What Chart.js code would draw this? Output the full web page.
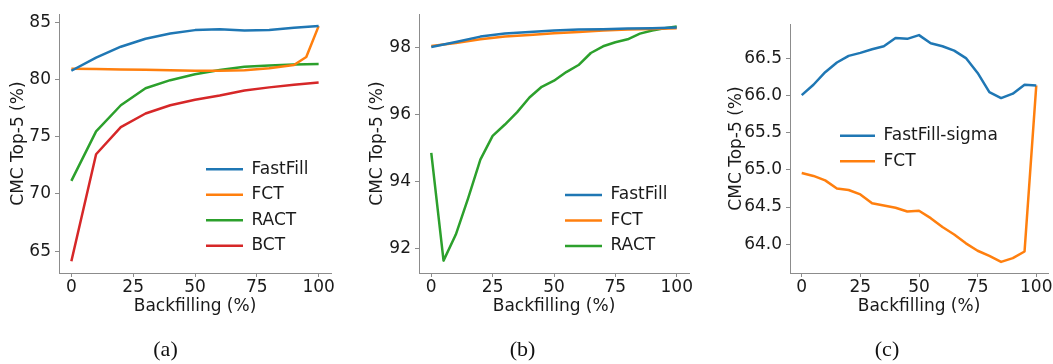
<!DOCTYPE html>
<html>
<head>
<meta charset="utf-8">
<script src="https://cdn.jsdelivr.net/npm/chart.js@4.4.1/dist/chart.umd.min.js"></script>
<style>
body { margin: 0; background: #fff; }
#wrap { position: relative; width: 1053px; height: 364px; }
canvas { position: absolute; top: 0; }
</style>
</head>
<body>
<div id="wrap">
  <canvas id="chartA" width="340" height="364" style="left:0px"></canvas>
  <canvas id="chartB" width="348" height="364" style="left:356px"></canvas>
  <canvas id="chartC" width="327" height="364" style="left:726px"></canvas>
</div>
<script>
// ---- data ----
var xTicks = [0, 25, 50, 75, 100];

// (a)
var xA = [0, 10, 20, 30, 40, 50, 60, 70, 80, 90, 100];
var xA_fct = [0, 10, 20, 30, 40, 50, 60, 70, 80, 90, 95, 100];
var fastFillA = [80.75, 81.9, 82.85, 83.55, 84.0, 84.3, 84.37, 84.26, 84.3, 84.5, 84.65];
var fctA = [80.92, 80.9, 80.85, 80.83, 80.8, 80.76, 80.76, 80.8, 80.98, 81.25, 81.95, 84.65];
var ractA = [71.13, 75.46, 77.74, 79.22, 79.93, 80.44, 80.81, 81.1, 81.21, 81.3, 81.35];
var bctA = [64.12, 73.46, 75.83, 77.02, 77.74, 78.22, 78.59, 79.02, 79.3, 79.53, 79.73];
var yTicksA = [65, 70, 75, 80, 85];

// (b)
var xB10 = [0, 10, 20, 30, 40, 50, 60, 70, 80, 90, 100];
var xB5 = [0, 5, 10, 15, 20, 25, 30, 35, 40, 45, 50, 55, 60, 65, 70, 75, 80, 85, 90, 95, 100];
var fastFillB = [98.02, 98.17, 98.33, 98.42, 98.47, 98.51, 98.54, 98.55, 98.57, 98.58, 98.6];
var fctB = [98.05, 98.14, 98.25, 98.33, 98.38, 98.43, 98.47, 98.51, 98.54, 98.56, 98.58];
var ractB = [94.85, 91.63, 92.41, 93.49, 94.65, 95.36, 95.7, 96.07, 96.51, 96.83, 97.01,
             97.27, 97.48, 97.84, 98.04, 98.16, 98.25, 98.42, 98.51, 98.58, 98.63];
var yTicksB = [92, 94, 96, 98];

// (c)
var xC = [0, 5, 10, 15, 20, 25, 30, 35, 40, 45, 50, 55, 60, 65, 70, 75, 80, 85, 90, 95, 100];
var fastFillSigmaC = [66.01, 66.15, 66.32, 66.45, 66.54, 66.58, 66.63, 66.67, 66.78, 66.77, 66.82,
                      66.71, 66.67, 66.61, 66.51, 66.31, 66.05, 65.97, 66.03, 66.15, 66.14];
var fctC = [64.96, 64.92, 64.86, 64.75, 64.73, 64.67, 64.55, 64.52, 64.49, 64.44, 64.45,
            64.35, 64.23, 64.13, 64.01, 63.91, 63.84, 63.76, 63.81, 63.9, 66.14];
var yTicksC = [64.0, 64.5, 65.0, 65.5, 66.0, 66.5];

var blue = '#1f77b4', orange = '#ff7f0e', green = '#2ca02c', red = '#d62728';
var axisGrey = '#8c8c8c', textCol = '#1a1a1a';

Chart.defaults.font.family = "'DejaVu Sans', sans-serif";
Chart.defaults.font.size = 17;
Chart.defaults.color = textCol;

function toPoints(xs, ys) {
    return xs.map(function (x, i) { return { x: x, y: ys[i] }; });
}

function lineSet(label, xs, ys, color) {
    return {
        label: label,
        data: toPoints(xs, ys),
        borderColor: color,
        backgroundColor: color,
        borderWidth: 2.5,
        pointRadius: 0,
        tension: 0,
        borderJoinStyle: 'round'
    };
}

function drawPanel(div, datasets, p) {
    var legPad = 8.5;
    // move the legend to where it sits in the figure
    var legendSpot = {
        id: 'legendSpot',
        afterLayout: function (chart) {
            var lg = chart.legend;
            var w = lg.width, h = lg.height;
            lg.left = p.legendX - legPad;
            lg.top = p.legendY - 8.5 - legPad;
            lg.right = lg.left + w;
            lg.bottom = lg.top + h;
        }
    };
    var ctx = document.getElementById(div).getContext('2d');
    return new Chart(ctx, {
        type: 'line',
        data: { datasets: datasets },
        plugins: [legendSpot],
        options: {
            responsive: false,
            animation: false,
            devicePixelRatio: 1,
            layout: { padding: { top: p.top, right: p.right, left: 0, bottom: 0 } },
            scales: {
                x: {
                    type: 'linear',
                    min: -5,
                    max: 105,
                    afterBuildTicks: function (s) { s.ticks = xTicks.map(function (v) { return { value: v }; }); },
                    afterFit: function (s) { s.height = 47; },
                    grid: { drawOnChartArea: false, drawTicks: true, tickLength: 4, color: axisGrey },
                    border: { display: true, color: axisGrey, width: 1 },
                    ticks: { padding: 0, autoSkip: false, maxRotation: 0 },
                    title: { display: true, text: 'Backfilling (%)', padding: { top: 0, bottom: 3 } }
                },
                y: {
                    type: 'linear',
                    min: p.ymin,
                    max: p.ymax,
                    afterBuildTicks: function (s) { s.ticks = p.yTicks.map(function (v) { return { value: v }; }); },
                    afterFit: function (s) { s.width = p.yWidth; },
                    grid: { drawOnChartArea: false, drawTicks: true, tickLength: 4, color: axisGrey },
                    border: { display: true, color: axisGrey, width: 1 },
                    ticks: {
                        padding: 4,
                        autoSkip: false,
                        callback: function (v) { return p.decimals ? v.toFixed(p.decimals) : String(v); }
                    },
                    title: { display: true, text: 'CMC Top-5 (%)', padding: { top: p.yTitlePad, bottom: 0 } }
                }
            },
            plugins: {
                legend: {
                    position: 'chartArea',
                    align: 'start',
                    labels: {
                        usePointStyle: true,
                        pointStyle: 'line',
                        pointStyleWidth: p.legendLine,
                        padding: legPad,
                        font: { size: 17 },
                        color: textCol
                    }
                },
                title: {
                    display: true,
                    text: p.caption,
                    position: 'bottom',
                    color: '#111',
                    font: { family: "'Liberation Serif', serif", size: 22, weight: 'normal' },
                    padding: { top: 17.5, bottom: 0.1 }
                },
                tooltip: { enabled: false }
            }
        }
    });
}

drawPanel('chartA', [
    lineSet('FastFill', xA, fastFillA, blue),
    lineSet('FCT', xA_fct, fctA, orange),
    lineSet('RACT', xA, ractA, green),
    lineSet('BCT', xA, bctA, red)
], {
    top: 8.6, right: 9, yWidth: 59, yTitlePad: 8,
    ymin: 63.09, ymax: 85.69, yTicks: yTicksA, decimals: 0,
    legendX: 206, legendY: 169.3, legendLine: 37, caption: '(a)'
});

drawPanel('chartB', [
    lineSet('FastFill', xB10, fastFillB, blue),
    lineSet('FCT', xB10, fctB, orange),
    lineSet('RACT', xB5, ractB, green)
], {
    top: 8.1, right: 15, yWidth: 63, yTitlePad: 11,
    ymin: 91.26, ymax: 99.0, yTicks: yTicksB, decimals: 0,
    legendX: 209, legendY: 195, legendLine: 37, caption: '(b)'
});

drawPanel('chartC', [
    lineSet('FastFill-sigma', xC, fastFillSigmaC, blue),
    lineSet('FCT', xC, fctC, orange)
], {
    top: 24, right: 5, yWidth: 64, yTitlePad: 0,
    ymin: 63.61, ymax: 66.97, yTicks: yTicksC, decimals: 1,
    legendX: 114, legendY: 135.7, legendLine: 35, caption: '(c)'
});
</script>
</body>
</html>
